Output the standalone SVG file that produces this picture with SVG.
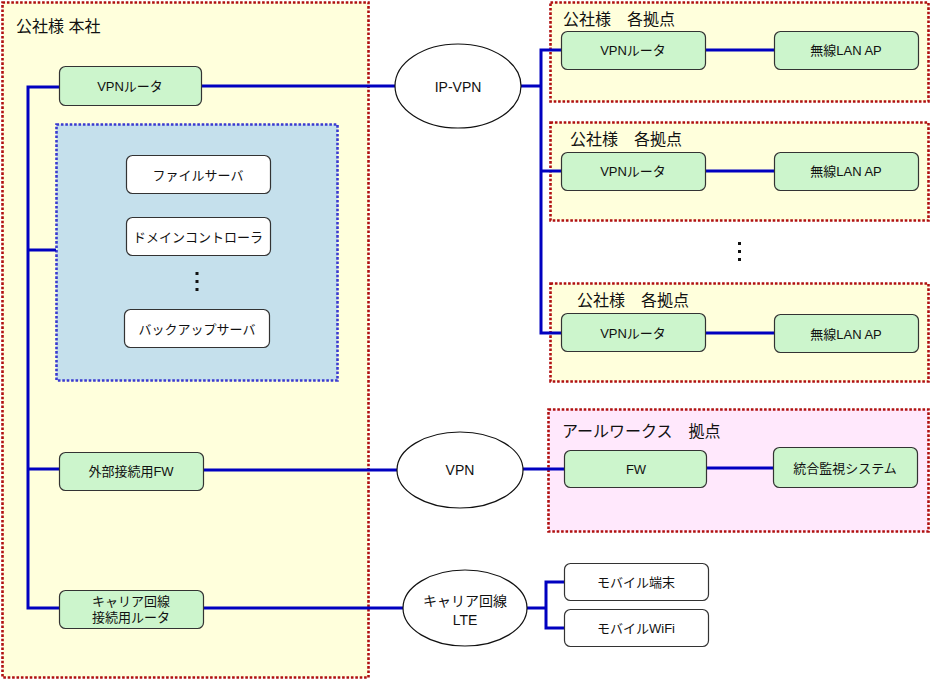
<svg xmlns="http://www.w3.org/2000/svg" width="932" height="681" viewBox="0 0 932 681">
<style>
text{font-family:"Liberation Sans","Noto Sans CJK JP",sans-serif;fill:#111;text-anchor:middle;dominant-baseline:central}
.title{font-size:16px;text-anchor:start;dominant-baseline:auto}
.lbl{font-size:13px}
.el{font-size:14px}
.zone{fill:#ffffdc;stroke:#b01010;stroke-width:2.6;stroke-dasharray:2.6 1.8}
.pink{fill:#ffe8fc}
.grp{fill:#c5e0ec;stroke:#3a3ad0;stroke-width:2.6;stroke-dasharray:2.6 1.8}
.g{fill:#ccf5cc;stroke:#333;stroke-width:1.2}
.w{fill:#fff;stroke:#333;stroke-width:1.2}
.ell{fill:#fff;stroke:#111;stroke-width:1.2}
.c{fill:none;stroke:#0000c0;stroke-width:3}
.dot{fill:#111}
</style>
<rect width="932" height="681" fill="#fff"/>
<g id="zone-hq">
<rect class="zone" x="2.5" y="2.5" width="366" height="675"/>
<text class="title" x="16" y="32">公社様 本社</text>
</g>
<g id="zone-branch1">
<rect class="zone" x="550.5" y="2.5" width="378" height="99"/>
<text class="title" x="563" y="25">公社様　各拠点</text>
</g>
<g id="zone-branch2">
<rect class="zone" x="550.5" y="122.5" width="378" height="98"/>
<text class="title" x="570" y="145">公社様　各拠点</text>
</g>
<g id="zone-branch3">
<rect class="zone" x="550.5" y="283.5" width="378" height="98"/>
<text class="title" x="577" y="306">公社様　各拠点</text>
</g>
<g id="zone-rworks">
<rect class="zone pink" x="548.5" y="409.5" width="380" height="122"/>
<text class="title" x="562" y="437">アールワークス　拠点</text>
</g>
<g id="server-group">
<rect class="grp" x="56.5" y="124.5" width="281" height="256"/>
</g>
<g id="connectors">
<path class="c" d="M59 87H28V608H59M28 250H56M28 469H59"/>
<path class="c" d="M201 86H395"/>
<path class="c" d="M203 470H397"/>
<path class="c" d="M203 608H403"/>
<path class="c" d="M521 86H541M561 50H541V333H561M541 171H561"/>
<path class="c" d="M705 50H774M705 171H774M705 333H774"/>
<path class="c" d="M523 469H564M707 468H773"/>
<path class="c" d="M527 608H546M564 582H546V628H564"/>
</g>
<g id="hq-vpn-router"><rect class="g" x="59.5" y="66.5" width="142" height="39" rx="6"/><text class="lbl" x="130" y="86">VPNルータ</text></g>
<g id="file-server"><rect class="w" x="126.5" y="155.5" width="144" height="38" rx="6"/><text class="lbl" x="198" y="175">ファイルサーバ</text></g>
<g id="domain-controller"><rect class="w" x="126.5" y="217.5" width="144" height="38" rx="6"/><text class="lbl" x="198" y="237">ドメインコントローラ</text></g>
<g id="server-dots"><rect class="dot" x="195.5" y="272" width="3" height="3"/><rect class="dot" x="195.5" y="280" width="3" height="3"/><rect class="dot" x="195.5" y="288" width="3" height="3"/></g>
<g id="backup-server"><rect class="w" x="124.5" y="309.5" width="145" height="38" rx="6"/><text class="lbl" x="197" y="329">バックアップサーバ</text></g>
<g id="hq-fw"><rect class="g" x="59.5" y="452.5" width="144" height="38" rx="6"/><text class="lbl" x="131" y="471">外部接続用FW</text></g>
<g id="carrier-router"><rect class="g" x="59.5" y="590.5" width="144" height="38" rx="6"/><text class="lbl" x="131" y="601">キャリア回線</text><text class="lbl" x="131" y="617">接続用ルータ</text></g>
<g id="ip-vpn"><ellipse class="ell" cx="458" cy="86" rx="63" ry="42"/><text class="el" x="458" y="87">IP-VPN</text></g>
<g id="vpn"><ellipse class="ell" cx="460" cy="470" rx="63" ry="38"/><text class="el" x="460" y="470">VPN</text></g>
<g id="lte"><ellipse class="ell" cx="465" cy="608" rx="62" ry="38"/><text class="el" x="465" y="601">キャリア回線</text><text class="el" x="465" y="620">LTE</text></g>
<g id="b1-router"><rect class="g" x="561.5" y="31.5" width="144" height="38" rx="6"/><text class="lbl" x="633" y="50">VPNルータ</text></g>
<g id="b1-ap"><rect class="g" x="774.5" y="31.5" width="144" height="38" rx="6"/><text class="lbl" x="846" y="50">無線LAN AP</text></g>
<g id="b2-router"><rect class="g" x="561.5" y="152.5" width="144" height="38" rx="6"/><text class="lbl" x="633" y="171">VPNルータ</text></g>
<g id="b2-ap"><rect class="g" x="774.5" y="152.5" width="144" height="38" rx="6"/><text class="lbl" x="846" y="171">無線LAN AP</text></g>
<g id="branch-dots"><rect class="dot" x="738" y="242" width="3" height="3"/><rect class="dot" x="738" y="250" width="3" height="3"/><rect class="dot" x="738" y="258" width="3" height="3"/></g>
<g id="b3-router"><rect class="g" x="561.5" y="313.5" width="144" height="38" rx="6"/><text class="lbl" x="633" y="333">VPNルータ</text></g>
<g id="b3-ap"><rect class="g" x="774.5" y="314.5" width="144" height="38" rx="6"/><text class="lbl" x="846" y="334">無線LAN AP</text></g>
<g id="rw-fw"><rect class="g" x="564.5" y="450.5" width="142" height="37" rx="6"/><text class="lbl" x="636" y="469">FW</text></g>
<g id="monitoring"><rect class="g" x="773.5" y="447.5" width="144" height="40" rx="6"/><text class="lbl" x="845" y="468">統合監視システム</text></g>
<g id="mobile-terminal"><rect class="w" x="564.5" y="563.5" width="144" height="37" rx="6"/><text class="lbl" x="636" y="582">モバイル端末</text></g>
<g id="mobile-wifi"><rect class="w" x="564.5" y="609.5" width="144" height="37" rx="6"/><text class="lbl" x="636" y="628">モバイルWiFi</text></g>
</svg>
